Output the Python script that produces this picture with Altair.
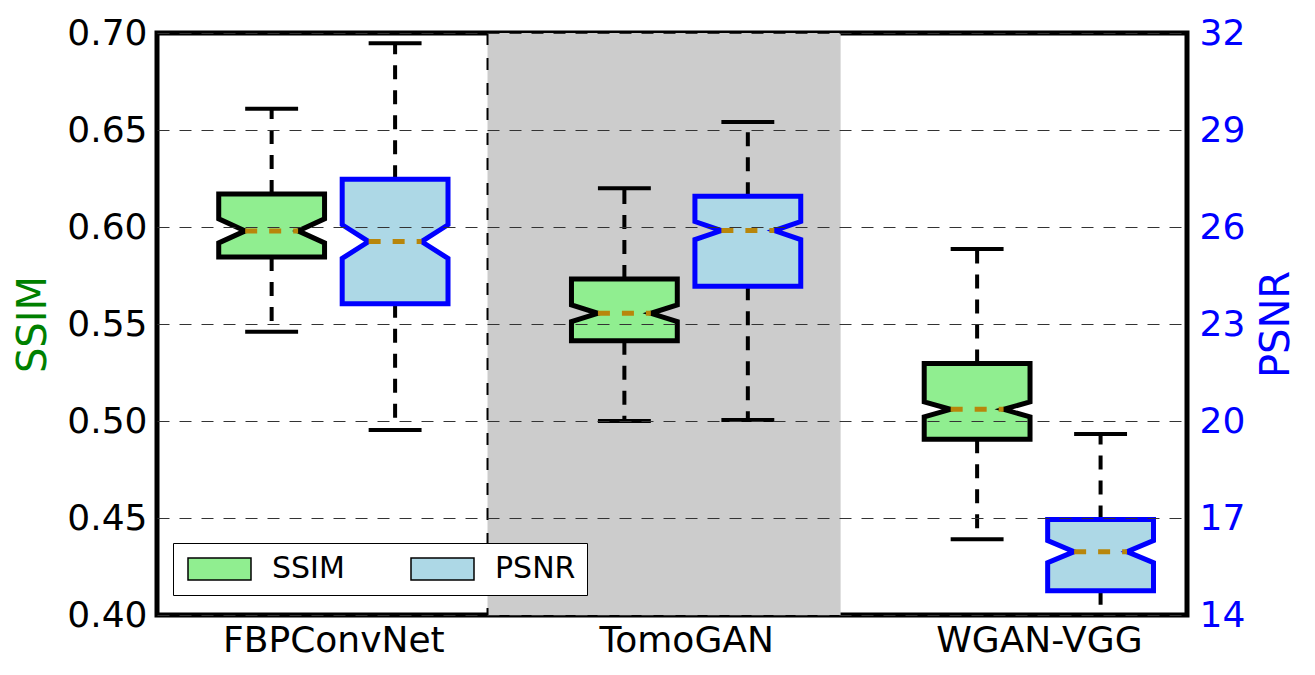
import json
import altair as alt
import pandas as pd

# ---------------- data ----------------
methods = ["FBPConvNet", "TomoGAN", "WGAN-VGG"]
positions = [1, 2, 3]

ssim_whislo = [0.546, 0.500, 0.439]
ssim_q1 = [0.5845, 0.5414, 0.4906]
ssim_med = [0.598, 0.5555, 0.506]
ssim_q3 = [0.617, 0.5732, 0.5297]
ssim_whishi = [0.661, 0.620, 0.5887]
ssim_notch = [0.0062, 0.0043, 0.0039]

psnr_whislo = [19.72, 20.03, 13.7]
psnr_q1 = [23.63, 24.17, 14.75]
psnr_med = [25.55, 25.89, 15.96]
psnr_q3 = [27.48, 26.95, 16.95]
psnr_whishi = [31.68, 29.25, 19.6]
psnr_notch = [0.52, 0.28, 0.34]

ssim_ticks = [0.40, 0.45, 0.50, 0.55, 0.60, 0.65, 0.70]
psnr_ticks = [14, 17, 20, 23, 26, 29, 32]
ssim_domain = [0.40, 0.70]
psnr_domain = [14, 32]
x_domain = [0.5, 3.42]
span_range = [1.437, 2.438]
box_offset = 0.175
box_width = 0.3

FONT = "DejaVu Sans"


def build(metric, whislo, q1, med, notch, q3, whishi, sign):
    poly, stats = [], []
    hw = box_width / 2
    for i, m in enumerate(methods):
        c = positions[i] + sign * box_offset
        bid = metric + "_" + m
        pts = [
            (q1[i], c - hw, c + hw),
            (med[i] - notch[i], c - hw, c + hw),
            (med[i], c - hw / 2, c + hw / 2),
            (med[i] + notch[i], c - hw, c + hw),
            (q3[i], c - hw, c + hw),
        ]
        for k, (yv, xl, xr) in enumerate(pts):
            poly.append(dict(box=bid, metric=metric, k=k, y=yv, xl=xl, xr=xr))
        stats.append(dict(box=bid, metric=metric, c=c, whislo=whislo[i], q1=q1[i],
                          med=med[i], q3=q3[i], whishi=whishi[i],
                          cl=c - hw / 2, cr=c + hw / 2))
    return pd.DataFrame(poly), pd.DataFrame(stats)


ssim_poly, ssim_stats = build("SSIM", ssim_whislo, ssim_q1, ssim_med, ssim_notch,
                              ssim_q3, ssim_whishi, -1)
psnr_poly, psnr_stats = build("PSNR", psnr_whislo, psnr_q1, psnr_med, psnr_notch,
                              psnr_q3, psnr_whishi, 1)

label_expr = json.dumps(methods) + "[datum.value - 1]"

x_scale = alt.Scale(domain=x_domain, nice=False, zero=False)
x_axis = alt.Axis(values=positions, labelExpr=label_expr, title=None, grid=False,
                  domain=False, ticks=False, labelFontSize=36, labelPadding=8,
                  labelColor="black", labelFont=FONT, labelLimit=0)


def X(field):
    return alt.X(field, type="quantitative", scale=x_scale, axis=x_axis)


ssim_scale = alt.Scale(domain=ssim_domain, nice=False, zero=False)
ssim_axis = alt.Axis(values=ssim_ticks, format=".2f", title="SSIM", titleColor="green",
                     titleFontSize=40, titleFontWeight="normal", titleFont=FONT,
                     titlePadding=13, labelFontSize=36, labelFont=FONT,
                     labelColor="black", labelPadding=10, grid=True,
                     gridDash=[12, 10], gridColor="#333333", gridWidth=1,
                     gridOpacity=1, domain=False, ticks=False, zindex=1, orient="left")

psnr_scale = alt.Scale(domain=psnr_domain, nice=False, zero=False)
psnr_axis = alt.Axis(values=psnr_ticks, format="d", title="PSNR", titleColor="blue",
                     titleFontSize=40, titleFontWeight="normal", titleFont=FONT,
                     titleAngle=270, titleBaseline="top", titlePadding=12,
                     labelFontSize=36, labelFont=FONT, labelColor="blue",
                     labelPadding=12, grid=False, domain=False, ticks=False,
                     zindex=1, orient="right")


def YS(field):
    return alt.Y(field, type="quantitative", scale=ssim_scale, axis=ssim_axis)


def YP(field):
    return alt.Y(field, type="quantitative", scale=psnr_scale, axis=psnr_axis)


legend = alt.Legend(
    title=None, orient="none", legendX=16, legendY=510, direction="horizontal",
    columns=2, symbolType="M-1,-1L4.727,-1L4.727,1L-1,1Z", symbolSize=484,
    symbolStrokeColor="black", symbolStrokeWidth=1.5, symbolOpacity=1,
    labelFontSize=30, labelFont=FONT, labelColor="black", labelOffset=58,
    columnPadding=62, padding=11, strokeColor="black", fillColor="white",
    cornerRadius=0,
)
fill_enc = alt.Fill("metric:N", scale=alt.Scale(domain=["SSIM", "PSNR"],
                    range=["#90ee90", "#add8e6"]), legend=legend)

span_df = pd.DataFrame({"s0": [span_range[0]], "s1": [span_range[1]],
                        "lo": [ssim_domain[0]], "hi": [ssim_domain[1]]})

span = alt.Chart(span_df).mark_rect(color="#cccccc").encode(
    x=X("s0"), x2="s1", y=YS("lo"), y2="hi")
sep = alt.Chart(span_df).mark_rule(color="black", strokeWidth=2,
                                   strokeDash=[12, 13]).encode(
    x=X("s0"), y=YS("hi"), y2="lo")


def layer_for(stats, poly, Y, stroke):
    base = alt.Chart(stats)
    wh_hi = base.mark_rule(color="black", strokeWidth=4, strokeDash=[14, 11],
                           clip=True).encode(x=X("c"), y=Y("q3"), y2="whishi")
    wh_lo = base.mark_rule(color="black", strokeWidth=4, strokeDash=[14, 11],
                           clip=True).encode(x=X("c"), y=Y("q1"), y2="whislo")
    cap_hi = base.mark_rule(color="black", strokeWidth=4, clip=True).encode(
        x=X("cl"), x2="cr", y=Y("whishi"))
    cap_lo = base.mark_rule(color="black", strokeWidth=4, clip=True).encode(
        x=X("cl"), x2="cr", y=Y("whislo"))
    box = alt.Chart(poly).mark_area(orient="horizontal", stroke=stroke,
                                    strokeWidth=5, opacity=1,
                                    strokeJoin="miter").encode(
        y=Y("y"), x=X("xl"), x2="xr", detail="box:N", fill=fill_enc)
    med = base.mark_rule(color="#b8860b", strokeWidth=5, strokeDash=[12, 12]).encode(
        x=X("cl"), x2="cr", y=Y("med"))
    return [wh_hi, wh_lo, cap_hi, cap_lo, box, med]


ssim_layer = alt.layer(span, sep, *layer_for(ssim_stats, ssim_poly, YS, "black"))
psnr_layer = alt.layer(*layer_for(psnr_stats, psnr_poly, YP, "blue"))

chart = alt.layer(ssim_layer, psnr_layer).resolve_scale(y="independent").properties(
    width=1030, height=582,
    autosize=alt.AutoSizeParams(type="none"),
    padding={"left": 157, "top": 33, "right": 128, "bottom": 60},
    background="white",
).configure_view(stroke="black", strokeWidth=5)

chart.save("out.html", embed_options={"renderer": "svg", "actions": False})
